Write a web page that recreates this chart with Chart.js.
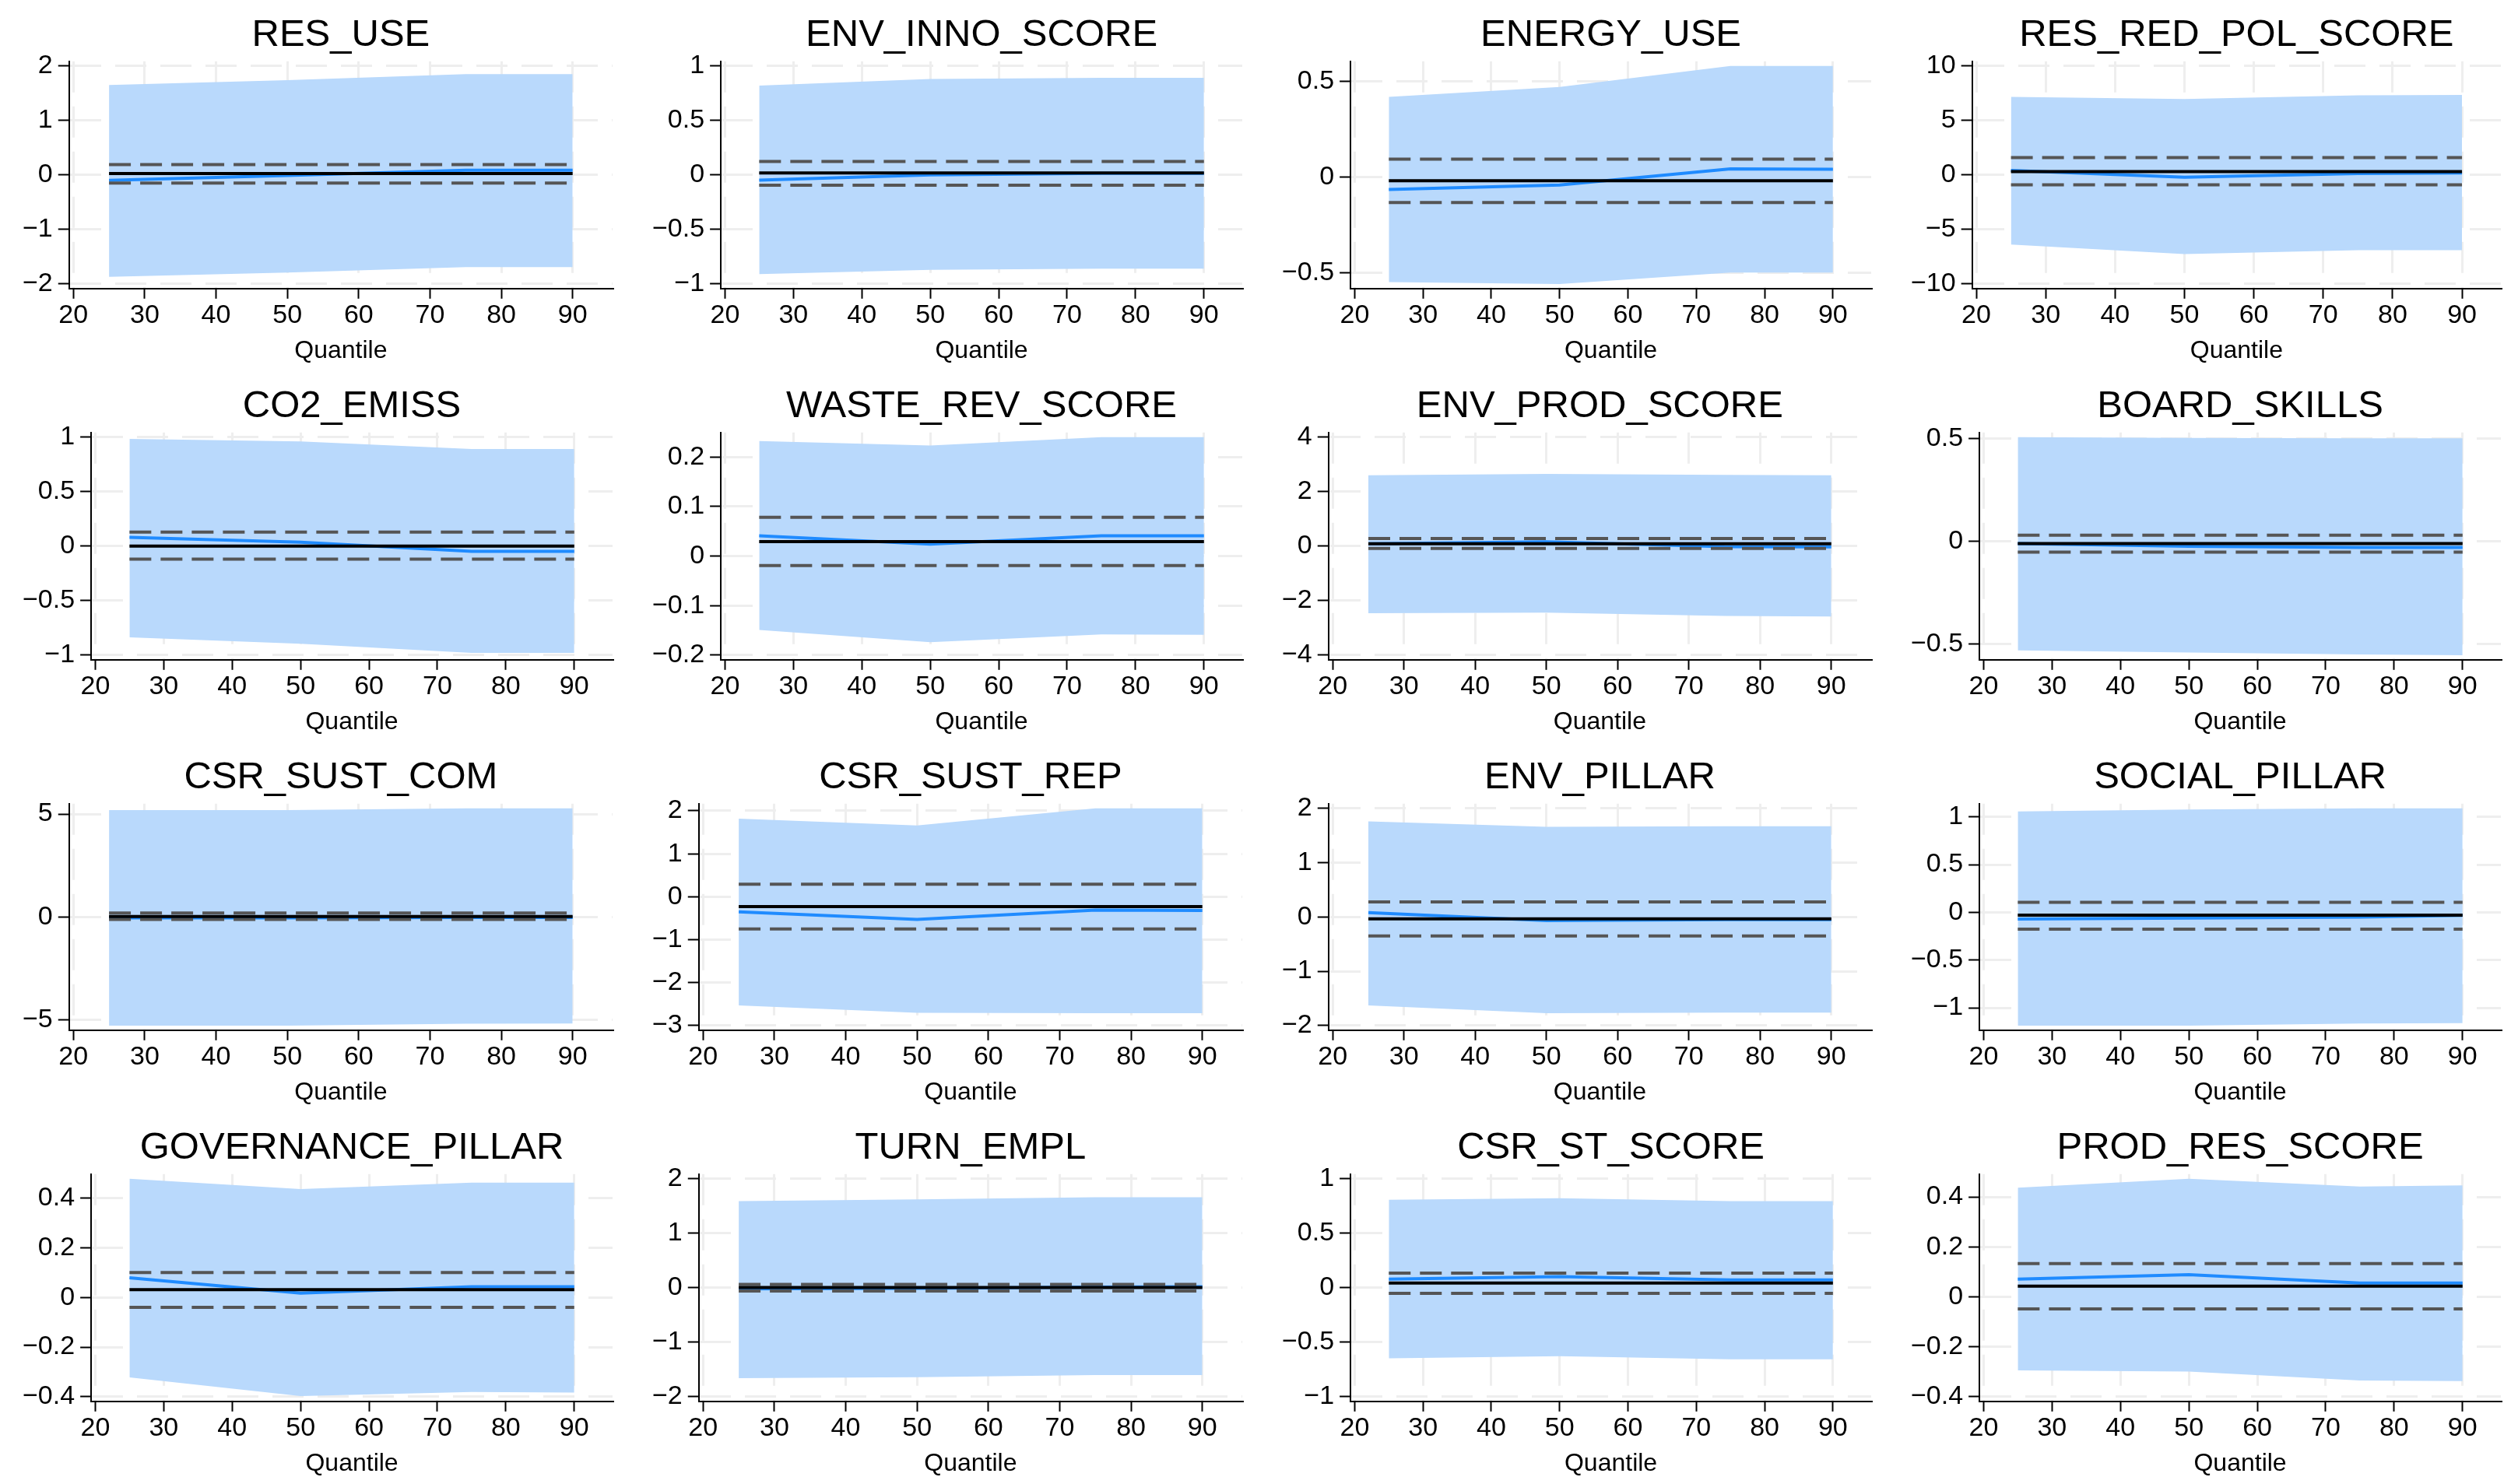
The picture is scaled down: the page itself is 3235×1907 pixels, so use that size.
<!DOCTYPE html>
<html>
<head>
<meta charset="utf-8">
<script src="https://cdn.jsdelivr.net/npm/chart.js@4.4.1/dist/chart.umd.min.js"></script>
<style>
  html, body { margin: 0; padding: 0; background: #fff; }
  #grid { position: relative; width: 3235px; height: 1907px; overflow: hidden; }
  .cell { position: absolute; }
</style>
</head>
<body>
<div id="grid"></div>
<script>
// quantile regression coefficients (blue line + band) against OLS (black + dashed)
const TITLES = [
  'RES_USE', 'ENV_INNO_SCORE', 'ENERGY_USE', 'RES_RED_POL_SCORE',
  'CO2_EMISS', 'WASTE_REV_SCORE', 'ENV_PROD_SCORE', 'BOARD_SKILLS',
  'CSR_SUST_COM', 'CSR_SUST_REP', 'ENV_PILLAR', 'SOCIAL_PILLAR',
  'GOVERNANCE_PILLAR', 'TURN_EMPL', 'CSR_ST_SCORE', 'PROD_RES_SCORE'
];
const QUANTILES = [25, 50, 75, 90];
const X_TICKS = [20, 30, 40, 50, 60, 70, 80, 90];
const Y_TICKS = [
  [-2, -1, 0, 1, 2], [-1, -0.5, 0, 0.5, 1], [-0.5, 0, 0.5], [-10, -5, 0, 5, 10],
  [-1, -0.5, 0, 0.5, 1], [-0.2, -0.1, 0, 0.1, 0.2], [-4, -2, 0, 2, 4], [-0.5, 0, 0.5],
  [-5, 0, 5], [-3, -2, -1, 0, 1, 2], [-2, -1, 0, 1, 2], [-1, -0.5, 0, 0.5, 1],
  [-0.4, -0.2, 0, 0.2, 0.4], [-2, -1, 0, 1, 2], [-1, -0.5, 0, 0.5, 1], [-0.4, -0.2, 0, 0.2, 0.4]
];
const COEF = [
  [-0.10, -0.01, 0.085, 0.085], [-0.047, 0.0, 0.015, 0.015], [-0.066, -0.043, 0.042, 0.04], [0.42, -0.21, 0.12, 0.19],
  [0.08, 0.036, -0.047, -0.047], [0.041, 0.024, 0.041, 0.041], [0.09, 0.16, -0.02, -0.03], [-0.011, -0.024, -0.03, -0.03],
  [-0.05, -0.05, -0.03, -0.03], [-0.35, -0.53, -0.31, -0.32], [0.08, -0.066, -0.05, -0.05], [-0.07, -0.06, -0.05, -0.032],
  [0.079, 0.017, 0.043, 0.043], [-0.02, -0.01, 0.01, 0.02], [0.078, 0.102, 0.071, 0.071], [0.071, 0.089, 0.055, 0.055]
];
const CI_LO = [
  [-1.87, -1.79, -1.69, -1.69], [-0.91, -0.87, -0.86, -0.86], [-0.55, -0.56, -0.50, -0.50], [-6.38, -7.26, -6.9, -6.9],
  [-0.836, -0.896, -0.98, -0.98], [-0.149, -0.174, -0.158, -0.159], [-2.46, -2.44, -2.56, -2.58], [-0.53, -0.54, -0.55, -0.553],
  [-5.29, -5.29, -5.2, -5.19], [-2.53, -2.70, -2.71, -2.71], [-1.63, -1.77, -1.76, -1.76], [-1.186, -1.186, -1.165, -1.16],
  [-0.322, -0.397, -0.381, -0.383], [-1.66, -1.64, -1.60, -1.60], [-0.647, -0.628, -0.656, -0.656], [-0.294, -0.299, -0.335, -0.337]
];
const CI_HI = [
  [1.65, 1.74, 1.85, 1.85], [0.82, 0.88, 0.89, 0.89], [0.418, 0.47, 0.58, 0.58], [7.16, 6.97, 7.3, 7.33],
  [0.983, 0.96, 0.89, 0.89], [0.232, 0.223, 0.24, 0.24], [2.6, 2.65, 2.61, 2.6], [0.506, 0.502, 0.5, 0.5],
  [5.19, 5.19, 5.28, 5.28], [1.82, 1.66, 2.06, 2.06], [1.76, 1.66, 1.67, 1.67], [1.057, 1.078, 1.09, 1.09],
  [0.478, 0.436, 0.462, 0.462], [1.59, 1.62, 1.66, 1.66], [0.806, 0.822, 0.794, 0.794], [0.437, 0.473, 0.442, 0.446]
];
const OLS = [0.025, 0.019, -0.02, 0.3, 0, 0.029, 0.085, -0.011, 0.02, -0.23, -0.035, -0.03, 0.031, 0.005, 0.043, 0.043];
const OLS_LO = [-0.15, -0.095, -0.134, -0.9, -0.12, -0.019, -0.085, -0.053, -0.13, -0.75, -0.35, -0.175, -0.04, -0.06, -0.052, -0.048];
const OLS_HI = [0.19, 0.123, 0.093, 1.6, 0.128, 0.078, 0.28, 0.03, 0.19, 0.29, 0.275, 0.105, 0.1, 0.06, 0.135, 0.133];

const BAND = '#b9d9fc';
const BLUE = '#1f8bff';
const GRID = '#eeeeee';

Chart.defaults.font.family = '"Liberation Sans", Arial, Helvetica, sans-serif';
Chart.defaults.color = '#000';

function fmt(v) { return v < 0 ? '\u2212' + String(-v) : String(v); }

const grid = document.getElementById('grid');

TITLES.forEach((title, i) => {
  const col = i % 4, row = Math.floor(i / 4);
  const left = Math.round(col * 3235 / 4), top = Math.round(row * 1907 / 4);
  const div = document.createElement('div');
  div.className = 'cell';
  div.style.left = left + 'px';
  div.style.top = top + 'px';
  div.style.width = (Math.round((col + 1) * 3235 / 4) - left) + 'px';
  div.style.height = (Math.round((row + 1) * 1907 / 4) - top) + 'px';
  const cv = document.createElement('canvas');
  div.appendChild(cv);
  grid.appendChild(div);

  const pts = arr => QUANTILES.map((q, k) => ({ x: q, y: arr[k] }));
  const flat = v => QUANTILES.map(q => ({ x: q, y: v }));
  const yt = Y_TICKS[i];
  const lo = Math.min(yt[0], ...CI_LO[i]);
  const hi = Math.max(yt[yt.length - 1], ...CI_HI[i]);
  const pad = (hi - lo) * 0.021;

  const axisGrid = tl => ({ color: GRID, lineWidth: 3, tickLength: tl, tickColor: '#000', tickWidth: 2 });
  const axisBorder = { color: '#000', width: 2, dash: [40, 18] };

  new Chart(cv, {
    type: 'line',
    data: {
      // first dataset ends up on top
      datasets: [
        { data: flat(OLS[i]), borderColor: '#000', borderWidth: 4 },
        { data: flat(OLS_HI[i]), borderColor: '#555', borderWidth: 4, borderDash: [28, 12] },
        { data: flat(OLS_LO[i]), borderColor: '#555', borderWidth: 4, borderDash: [28, 12] },
        { data: pts(COEF[i]), borderColor: BLUE, borderWidth: 4 },
        { data: pts(CI_HI[i]), borderColor: 'rgba(0,0,0,0)', borderWidth: 0, backgroundColor: BAND, fill: '+1' },
        { data: pts(CI_LO[i]), borderColor: 'rgba(0,0,0,0)', borderWidth: 0 }
      ]
    },
    options: {
      responsive: true,
      maintainAspectRatio: false,
      animation: false,
      events: [],
      elements: { point: { radius: 0 }, line: { tension: 0, borderCapStyle: 'butt' } },
      layout: { padding: { left: 22, right: 22, top: 0, bottom: 0 } },
      plugins: {
        legend: { display: false },
        tooltip: { enabled: false },
        title: {
          display: true, text: title, fullSize: false, color: '#000',
          font: { size: 49, weight: 'normal', lineHeight: 1.2 },
          padding: { top: 16, bottom: 4 }
        }
      },
      scales: {
        x: {
          type: 'linear', min: 19.4, max: 95.6,
          afterBuildTicks: s => { s.ticks = X_TICKS.map(v => ({ value: v })); },
          ticks: { color: '#000', font: { size: 34 }, padding: 1, maxRotation: 0, autoSkip: false, callback: v => fmt(v) },
          grid: axisGrid(13),
          border: axisBorder,
          title: { display: true, text: 'Quantile', color: '#000', font: { size: 32 }, padding: { top: 5, bottom: 7 } }
        },
        y: {
          min: lo - pad, max: hi + pad,
          afterBuildTicks: s => { s.ticks = yt.map(v => ({ value: v })); },
          ticks: { color: '#000', font: { size: 34 }, padding: 7, autoSkip: false, callback: v => fmt(v) },
          grid: axisGrid(14),
          border: axisBorder
        }
      }
    }
  });
});
</script>
</body>
</html>
